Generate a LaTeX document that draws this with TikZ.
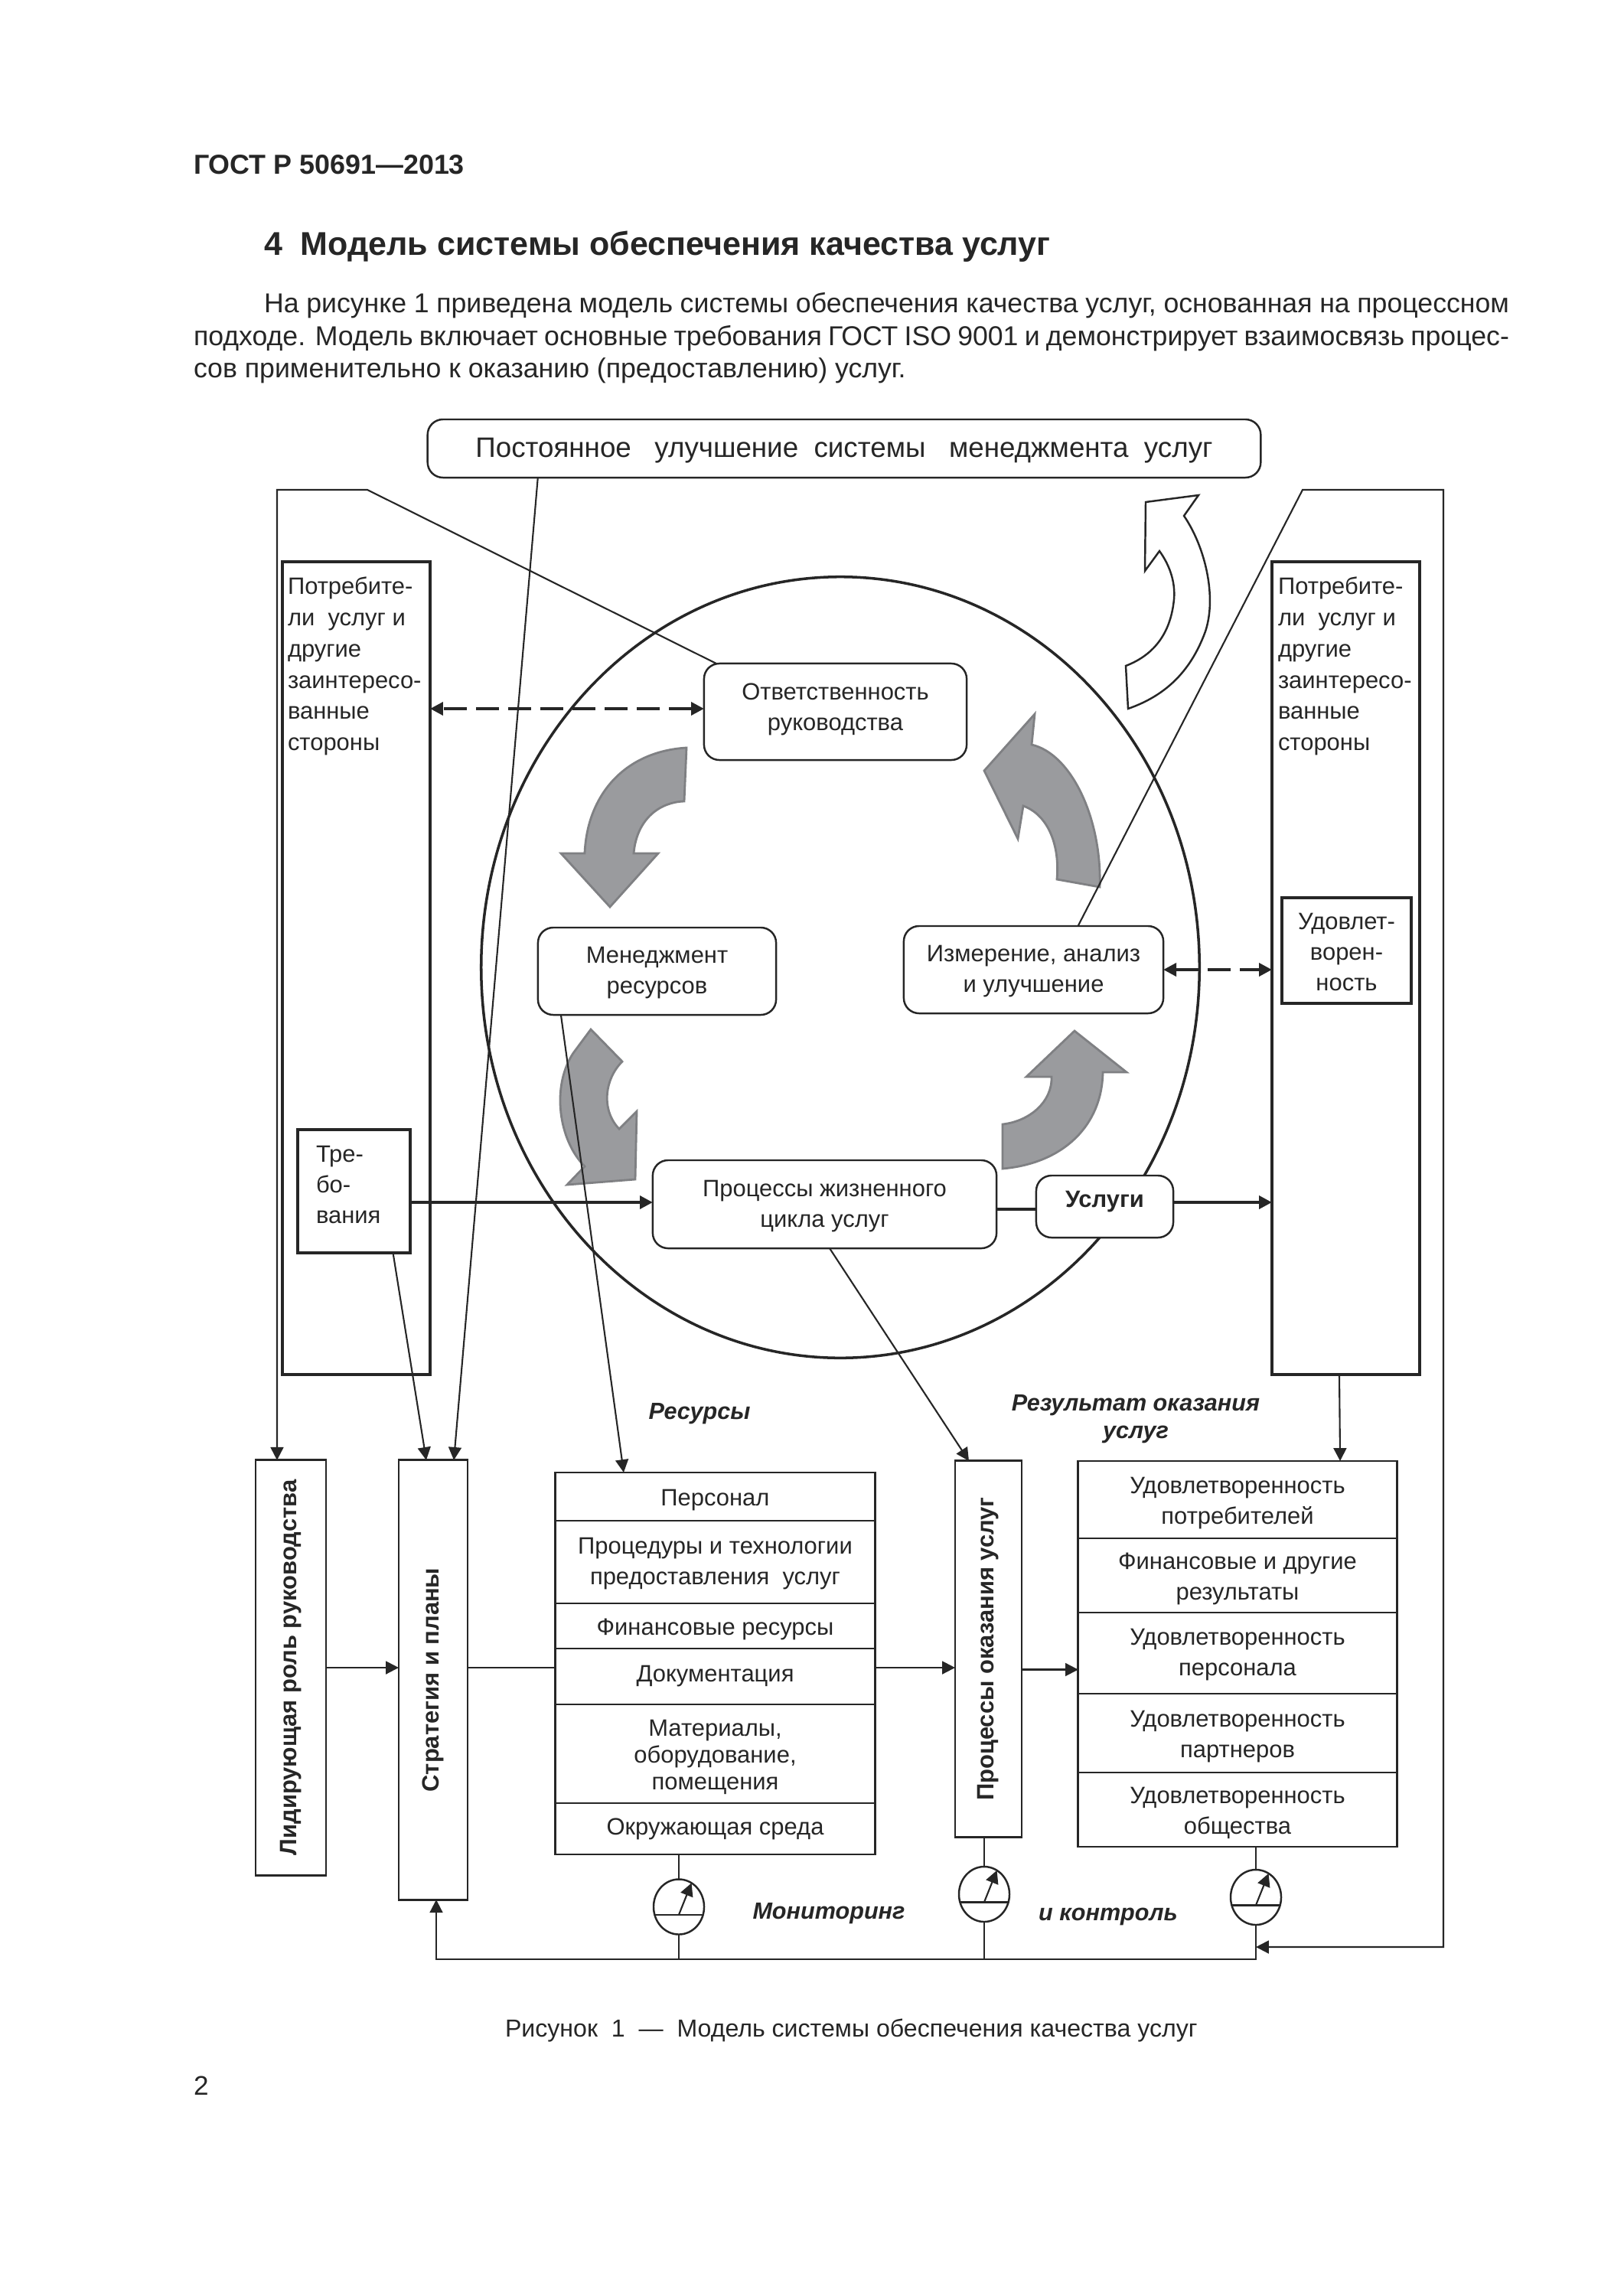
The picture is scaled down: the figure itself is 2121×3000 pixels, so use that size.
\documentclass[tikz,border=0pt]{standalone}
\usepackage{fontspec}
\usepackage{graphicx}
\setmainfont{Liberation Sans}
\usepackage{xcolor}
\usepackage{tikz}
\usetikzlibrary{shapes.geometric,arrows.meta,calc}

\definecolor{inkdark}{HTML}{262626}
\definecolor{turnfill}{HTML}{9A9B9E}
\definecolor{turnedge}{HTML}{7F8083}
\newcommand{\boxfont}{\fontsize{8.8}{11.4}\selectfont}

\begin{document}
\begin{tikzpicture}[
        x=0.01cm, y=-0.01cm,
        color=inkdark,
        >={Triangle[length=4.8pt,width=4.8pt]},
        every node/.style={font=\boxfont, inner sep=0pt, outer sep=0pt},
        stage/.style={rectangle, draw, fill=white, rounded corners=0.2cm, line width=0.7pt, align=center},
        heavybox/.style={rectangle, draw, fill=white, line width=1.1pt},
        cell/.style={rectangle, draw, fill=white, line width=0.8pt, align=center},
        lowered/.style={text height=0.30cm},
        lowertwo/.style={text height=0.70cm},
        gauge/.style={ellipse, draw, fill=white, line width=0.7pt, minimum width=0.66cm, minimum height=0.72cm},
        heading/.style={font=\bfseries\itshape\fontsize{8.7}{10.4}\selectfont, align=center},
        sidetext/.style={anchor=north west, align=left, font=\fontsize{8.8}{11.6}\selectfont},
        arrow/.style={line width=0.6pt,->},
        thickarrow/.style={line width=1.1pt,->},
        dashedarrow/.style={line width=1.1pt,<->,dash pattern=on 0.30cm off 0.12cm},
        turn/.style={fill=turnfill, draw=turnedge, line width=0.8pt}
    ]
        \useasboundingbox (0,0) rectangle (2121,3000);
        \fill[white] (0,0) rectangle (2121,3000);

        % Page text
        \node[anchor=base west, font=\bfseries\fontsize{10.2}{12}\selectfont] (pagehead) at (253,228) {ГОСТ Р 50691—2013};
        \node[anchor=base west, font=\bfseries\fontsize{12.23}{14}\selectfont] (sectitle) at (345,333) {4\ \ Модель системы обеспечения качества услуг};
        \node[anchor=north west, text width=17.18cm, align=justify, font=\fontsize{10.14}{12.2}\selectfont] (bodytext) at (253,382) {\hspace*{0.92cm}На рисунке 1 приведена модель системы обеспечения качества услуг, основанная на процессном\linebreak подходе. Модель включает основные требования ГОСТ ISO 9001 и демонстрирует взаимосвязь процес-\linebreak сов применительно к оказанию (предоставлению) услуг.};
        \node[anchor=base west, font=\fontsize{9.13}{11}\selectfont] (figcaption) at (660,2661) {Рисунок\ \ 1\ \ —\ \ Модель системы обеспечения качества услуг};
        \node[anchor=base west, font=\fontsize{10}{12}\selectfont] (pagenum) at (253,2737) {2};

        % Circle and side columns
        \node[ellipse, draw, line width=1pt, minimum width=9.38cm, minimum height=10.2cm] (ring) at (1098,1264) {};
        \node[heavybox, minimum width=1.93cm, minimum height=10.62cm] (custL) at (465.5,1265) {};
        \node[heavybox, minimum width=1.93cm, minimum height=10.62cm] (custR) at (1758.5,1265) {};
        \node[sidetext] (custLtext) at (376,754) {Потребите-\\ли\ \ услуг и\\другие\\заинтересо-\\ванные\\стороны};
        \node[sidetext] (custRtext) at (1670,754) {Потребите-\\ли\ \ услуг и\\другие\\заинтересо-\\ванные\\стороны};

        % Grey turning arrows
        \draw[turn] (897,977) -- (894,1047) .. controls (862,1048) and (832,1070) .. (828,1115) -- (860,1115) -- (797,1185) -- (733,1115) -- (764,1115) .. controls (767,1040) and (815,982) .. cycle;
        \draw[turn] (1352,933) -- (1348,973) .. controls (1400,985) and (1440,1070) .. (1437,1159) -- (1381,1149) .. controls (1385,1105) and (1370,1065) .. (1337,1053) -- (1330,1096) -- (1286,1007) -- cycle;
        \draw[turn] (772,1345) -- (813,1387) .. controls (790,1410) and (785,1450) .. (809,1475) -- (832,1452) -- (830,1541) -- (741,1548) -- (764,1524) .. controls (730,1490) and (720,1420) .. (749,1376) -- cycle;
        \draw[turn] (1404,1347) -- (1472,1401) -- (1441,1401) .. controls (1440,1470) and (1390,1520) .. (1310,1527) -- (1310,1469) .. controls (1345,1465) and (1375,1440) .. (1374,1407) -- (1341,1407) -- cycle;

        % White arrow of improvement
        \draw[line width=0.7pt, fill=white] (1497,656) -- (1566,647) -- (1547,674) .. controls (1575,715) and (1590,780) .. (1575,825) .. controls (1555,880) and (1520,910) .. (1474,926) -- (1471,870) .. controls (1510,855) and (1530,825) .. (1534,783) .. controls (1536,760) and (1528,738) .. (1515,720) -- (1496,746) -- cycle;

        % Stages inside the circle
        \node[stage, minimum width=10.88cm, minimum height=0.76cm, text height=0.30cm, font=\fontsize{10.45}{12}\selectfont] (improve) at (1103,586) {Постоянное\ \ \ улучшение\ \ системы\ \ \ менеджмента\ \ услуг};
        \node[stage, minimum width=3.43cm, minimum height=1.26cm, text depth=0.125cm] (mgmtresp) at (1091.5,930) {Ответственность\\руководства};
        \node[stage, minimum width=3.11cm, minimum height=1.14cm, text height=0.66cm] (mgmtres) at (858.5,1269) {Менеджмент\\ресурсов};
        \node[stage, minimum width=3.39cm, minimum height=1.14cm, text height=0.66cm] (measure) at (1350.5,1267) {Измерение, анализ\\и улучшение};
        \node[stage, minimum width=4.49cm, minimum height=1.15cm, text height=0.66cm] (lifecycle) at (1077.5,1573.5) {Процессы жизненного\\цикла услуг};
        \node[stage, minimum width=1.79cm, minimum height=0.81cm, text depth=0.185cm, font=\bfseries\boxfont] (services) at (1443.5,1576.5) {Услуги};
        \node[heavybox, minimum width=1.47cm, minimum height=1.61cm] (reqs) at (462.5,1556.5) {};
        \node[sidetext, font=\boxfont] (reqstext) at (413,1497) {Тре-\\бо-\\вания};
        \node[heavybox, minimum width=1.69cm, minimum height=1.38cm, align=center, text height=1.05cm] (satisf) at (1759.5,1242) {Удовлет-\\ворен-\\ность};

        % Vertical boxes
        \node[cell, minimum width=0.92cm, minimum height=5.42cm, font=\bfseries\boxfont] (leader) at (380,2179) {\rotatebox{90}{Лидирующая роль руководства}};
        \node[cell, minimum width=0.90cm, minimum height=5.74cm, font=\bfseries\boxfont] (strategy) at (566,2195) {\rotatebox{90}{Стратегия и планы}};
        \node[cell, minimum width=0.87cm, minimum height=4.91cm, font=\bfseries\boxfont] (delivery) at (1291.5,2154.5) {\rotatebox{90}{Процессы оказания услуг}};

        % Resources
        \node[cell, lowered, minimum width=4.17cm, minimum height=0.63cm] (res1) at (934.5,1955.5) {Персонал};
        \node[cell, text height=0.66cm, minimum width=4.17cm, minimum height=1.08cm] (res2) at (934.5,2041) {Процедуры и технологии\\предоставления\ \ услуг};
        \node[cell, lowered, minimum width=4.17cm, minimum height=0.59cm] (res3) at (934.5,2124.5) {Финансовые ресурсы};
        \node[cell, minimum width=4.17cm, minimum height=0.73cm] (res4) at (934.5,2190.5) {Документация};
        \node[cell, text height=1.00cm, minimum width=4.17cm, minimum height=1.29cm] (res5) at (934.5,2291.5) {Материалы,\\[-1.4pt]оборудование,\\[-1.4pt]помещения};
        \node[cell, minimum width=4.17cm, minimum height=0.67cm] (res6) at (934.5,2389.5) {Окружающая среда};

        % Results
        \node[cell, lowertwo, minimum width=4.16cm, minimum height=1.01cm] (out1) at (1617,1959.5) {Удовлетворенность\\потребителей};
        \node[cell, lowertwo, minimum width=4.16cm, minimum height=0.97cm] (out2) at (1617,2058.5) {Финансовые и другие\\результаты};
        \node[cell, text height=0.66cm, minimum width=4.16cm, minimum height=1.06cm] (out3) at (1617,2160) {Удовлетворенность\\персонала};
        \node[cell, lowertwo, minimum width=4.16cm, minimum height=1.03cm] (out4) at (1617,2264.5) {Удовлетворенность\\партнеров};
        \node[cell, lowertwo, minimum width=4.16cm, minimum height=0.97cm] (out5) at (1617,2364.5) {Удовлетворенность\\общества};

        % Gauges
        \node[gauge] (gauge1) at (887,2491.5) {};
        \node[gauge] (gauge2) at (1286,2475) {};
        \node[gauge] (gauge3) at (1641,2479) {};
        \foreach \g in {gauge1,gauge2,gauge3} {
            \draw[line width=0.7pt] (\g.198) -- (\g.-18);
            \draw[line width=0.6pt,->] ($(\g.198)!0.5!(\g.-18)$) -- (\g.62);
        }

        % Headings
        \node[heading] (lblres) at (914,1847) {Ресурсы};
        \node[heading] (lblout) at (1484,1854) {Результат оказания\\услуг};
        \node[heading] (lblmon) at (1083,2500) {Мониторинг};
        \node[heading] (lblctl) at (1448,2504) {и контроль};

        % Coordinates of frames and bus
        \coordinate (frameLa) at (480,640);
        \coordinate (frameLb) at (362,640);
        \coordinate (frameRa) at (1702,640);
        \coordinate (frameRb) at (1886,640);
        \coordinate (frameRc) at (1886,2544);
        \coordinate (busR) at (1641,2560);
        \coordinate (busL) at (570,2560);

        % Frames
        \draw[arrow] ([xshift=0.16cm]mgmtresp.north west) -- (frameLa) -- (frameLb) -- ([xshift=-0.18cm]leader.north);
        \draw[arrow] ([xshift=0.58cm]measure.north) -- (frameRa) -- (frameRb) -- (frameRc) -- (frameRc -| gauge3.south);

        % Connections
        \draw[arrow] ([xshift=1.44cm]improve.south west) -- ([xshift=0.27cm]strategy.north);
        \draw[arrow] ([xshift=0.51cm]reqs.south) -- ([xshift=-0.09cm]strategy.north);
        \draw[arrow] ([xshift=0.30cm]mgmtres.south west) -- ([xshift=-1.195cm]res1.north);
        \draw[arrow] ([xshift=2.31cm]lifecycle.south west) -- ([xshift=-0.255cm]delivery.north);
        \draw[arrow] ([xshift=-0.085cm]custR.south) -- ([xshift=1.34cm]out1.north);
        \draw[arrow] (leader.east) -- (leader.east -| strategy.west);
        \draw[line width=0.6pt] (leader.east -| strategy.east) -- (leader.east -| res4.west);
        \draw[arrow] (leader.east -| res4.east) -- (leader.east -| delivery.west);
        \draw[arrow] ([yshift=-0.27cm]delivery.east) -- ([yshift=-0.27cm]delivery.east -| out3.west);
        \draw[thickarrow] ([yshift=-0.145cm]reqs.east) -- ([yshift=-0.145cm]reqs.east -| lifecycle.west);
        \draw[line width=1.1pt] ([yshift=-0.065cm]lifecycle.east) -- ([yshift=-0.065cm]lifecycle.east -| services.west);
        \draw[thickarrow] ([yshift=0.055cm]services.east) -- ([yshift=0.055cm]services.east -| custR.west);
        \draw[dashedarrow] ([yshift=0.04cm]mgmtresp.west) -- ([yshift=0.04cm]mgmtresp.west -| custL.east);
        \draw[dashedarrow] (measure.east) -- (measure.east -| custR.west);

        % Monitoring bus
        \draw[line width=0.6pt] (gauge1.north) -- (gauge1.north |- res6.south);
        \draw[line width=0.6pt] (gauge2.north) -- (gauge2.north |- delivery.south);
        \draw[line width=0.6pt] (gauge3.north) -- (gauge3.north |- out5.south);
        \draw[line width=0.6pt] (gauge1.south) -- (gauge1.south |- busR);
        \draw[line width=0.6pt] (gauge2.south) -- (gauge2.south |- busR);
        \draw[arrow] (gauge3.south) -- (busR) -- (busL) -- (busL |- strategy.south);
    \end{tikzpicture}
\end{document}
